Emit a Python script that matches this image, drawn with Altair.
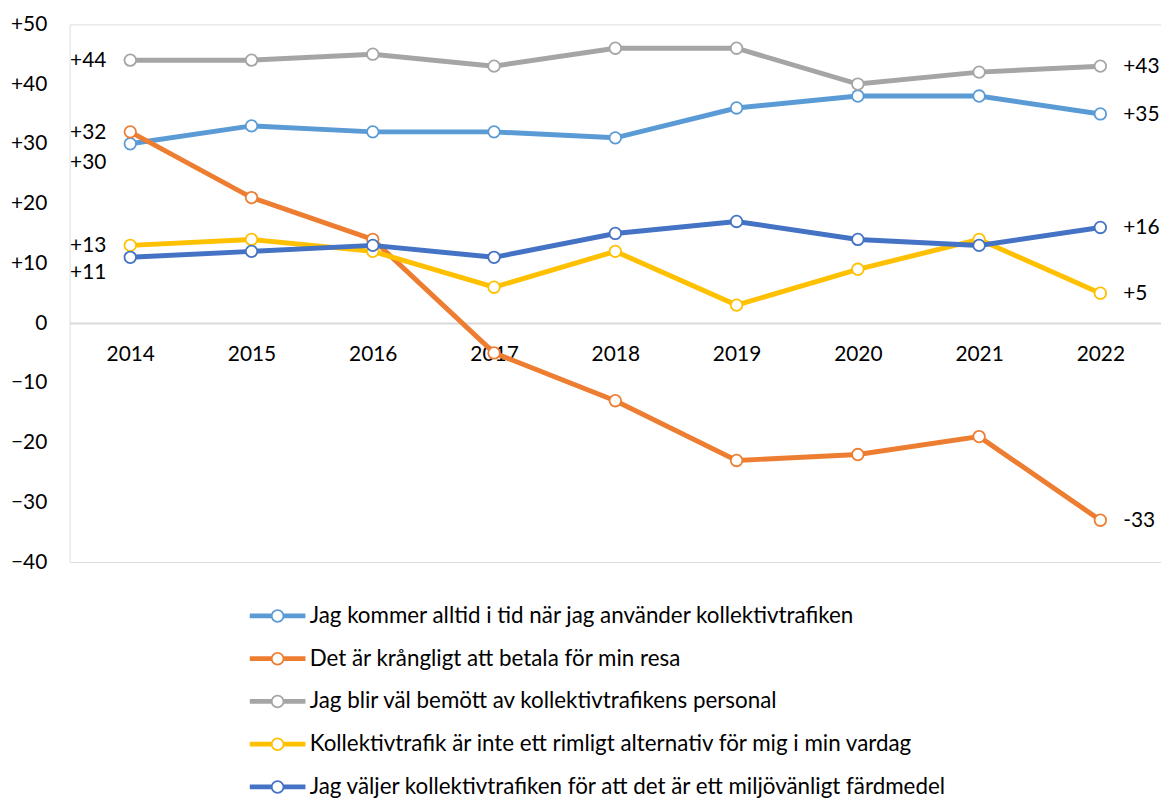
import altair as alt
import pandas as pd

years = [2014, 2015, 2016, 2017, 2018, 2019, 2020, 2021, 2022]
series_names = [
    "Jag kommer alltid i tid när jag använder kollektivtrafiken",
    "Det är krångligt att betala för min resa",
    "Jag blir väl bemött av kollektivtrafikens personal",
    "Kollektivtrafik är inte ett rimligt alternativ för mig i min vardag",
    "Jag väljer kollektivtrafiken för att det är ett miljövänligt färdmedel",
]
s_punktlig = [30, 33, 32, 32, 31, 36, 38, 38, 35]
s_betala = [32, 21, 14, -5, -13, -23, -22, -19, -33]
s_personal = [44, 44, 45, 43, 46, 46, 40, 42, 43]
s_alternativ = [13, 14, 12, 6, 12, 3, 9, 14, 5]
s_miljo = [11, 12, 13, 11, 15, 17, 14, 13, 16]
colors = ["#5b9bd5", "#ed7d31", "#a5a5a5", "#ffc000", "#4472c4"]
y_ticks = [-40, -30, -20, -10, 0, 10, 20, 30, 40, 50]

all_values = [s_punktlig, s_betala, s_personal, s_alternativ, s_miljo]
rows = []
for name, vals in zip(series_names, all_values):
    for yr, v in zip(years, vals):
        rows.append({"year": yr, "series": name, "value": v})
df = pd.DataFrame(rows)

FONT = "Lato"
FS = 21
LFS = 22.5

x_enc = alt.X(
    "year:O",
    scale=alt.Scale(type="point", padding=0.5),
    axis=alt.Axis(
        title=None, labelAngle=0, ticks=False, domainColor="#d9d9d9",
        domainWidth=2, offset=-240.4, labelPadding=21, labelFontSize=FS,
        labelFont=FONT, labelColor="#000000",
    ),
)
y_enc = alt.Y(
    "value:Q",
    scale=alt.Scale(domain=[-40, 50], nice=False, zero=False),
    axis=alt.Axis(
        title=None, values=y_ticks, grid=False, ticks=False, domain=False,
        labelPadding=23, labelFontSize=FS, labelFont=FONT, labelColor="#000000",
        labelExpr="datum.value > 0 ? '+' + datum.value : datum.label",
    ),
)

legend_path = (
    "M-28,-2.4H-6V2.4H-28Z "
    "M6,-2.4H28V2.4H6Z "
    "M6.8,0A6.8,6.8 0 1,1 -6.8,0A6.8,6.8 0 1,1 6.8,0Z "
    "M5,0A5,5 0 1,0 -5,0A5,5 0 1,0 5,0Z"
)

legend = alt.Legend(
    title=None, orient="none", legendX=198, legendY=584, direction="vertical",
    symbolType=legend_path, symbolSize=4, labelOffset=21, rowPadding=20,
    labelFontSize=LFS, labelFont=FONT, labelColor="#000000", labelLimit=0,
    symbolStrokeWidth=0, symbolOpacity=1,
)
color_scale = alt.Scale(domain=series_names, range=colors)

base = alt.Chart(df)
layers = []
# invisible layer carrying the legend (filled symbols)
layers.append(
    base.mark_point(filled=True, opacity=0).encode(
        x=x_enc, y=y_enc,
        color=alt.Color("series:N", scale=color_scale, legend=legend),
    )
)
for name, col in zip(series_names, colors):
    sub = base.transform_filter(alt.datum.series == name)
    layers.append(
        sub.mark_line(strokeWidth=5, color=col).encode(x=x_enc, y=y_enc)
    )
    layers.append(
        sub.mark_point(filled=True, fill="white", stroke=col, strokeWidth=1.8,
                       size=135, opacity=1).encode(x=x_enc, y=y_enc)
    )

# data labels: first and last year
left_dy = {series_names[0]: 19, series_names[4]: 16}
for name in series_names:
    sub = base.transform_filter(
        (alt.datum.series == name) & (alt.datum.year == years[0])
    ).transform_calculate(
        lab="datum.value > 0 ? '+' + datum.value : '' + datum.value"
    )
    layers.append(
        sub.mark_text(align="right", baseline="middle", dx=-24,
                      dy=left_dy.get(name, 1), fontSize=FS, font=FONT,
                      color="#000000").encode(x=x_enc, y=y_enc, text="lab:N")
    )
right = base.transform_filter(alt.datum.year == years[-1]).transform_calculate(
    lab="datum.value > 0 ? '+' + datum.value : '' + datum.value"
)
layers.append(
    right.mark_text(align="left", baseline="middle", dx=23, dy=1, fontSize=FS,
                    font=FONT, color="#000000").encode(x=x_enc, y=y_enc, text="lab:N")
)

chart = alt.layer(*layers).properties(
    width=1098, height=541,
    padding={"left": 62, "top": 14, "right": 0, "bottom": 242},
    autosize="none",
).configure_view(stroke=None).configure(font=FONT, background="white")

chart.save("out.html", embed_options={"renderer": "svg", "actions": False})
